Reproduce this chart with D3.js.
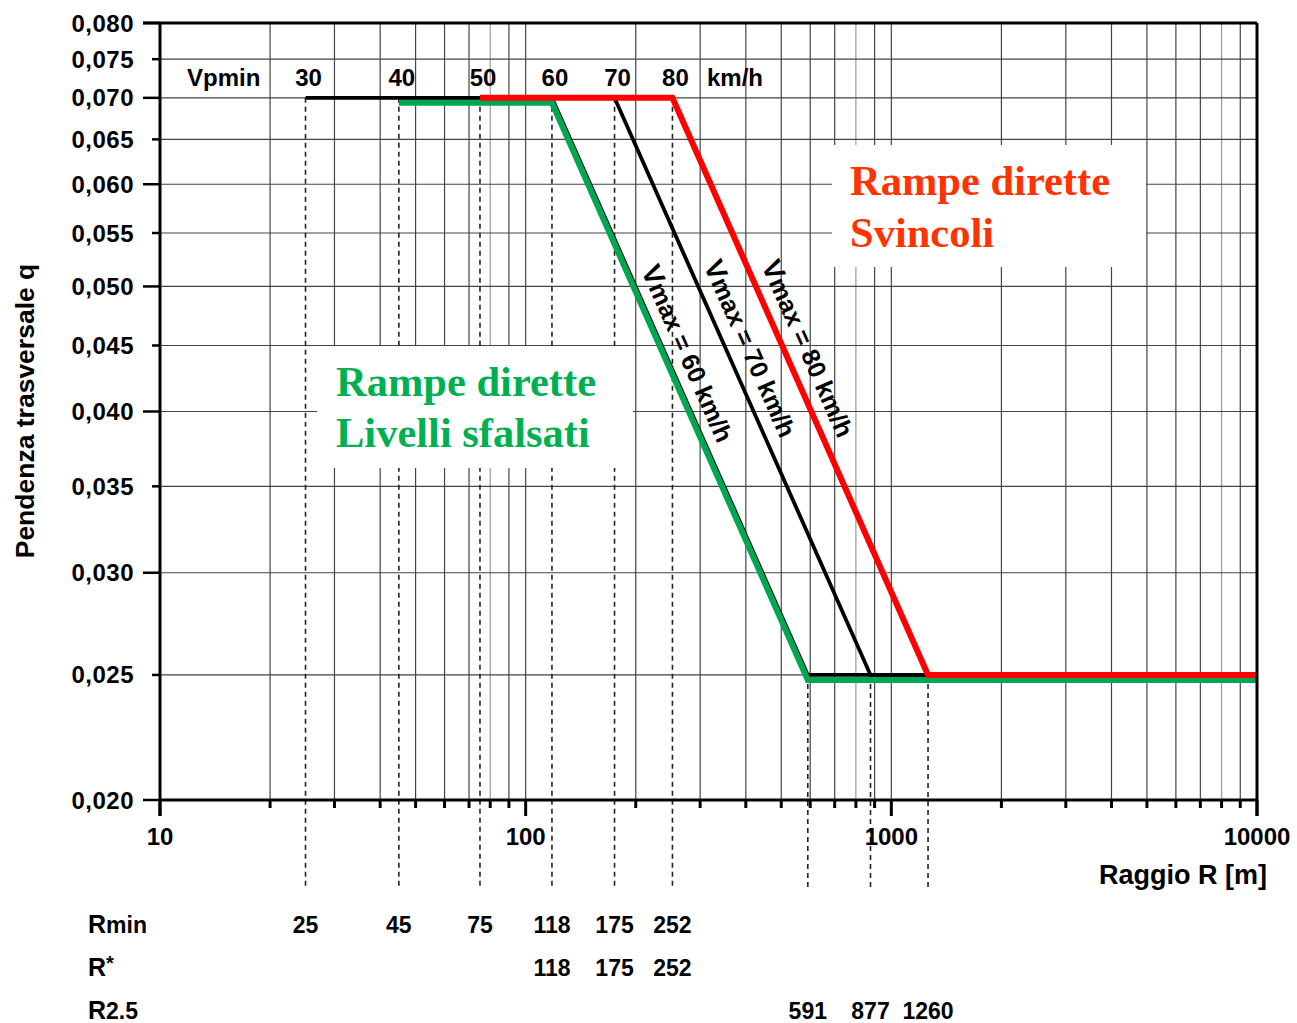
<!DOCTYPE html>
<html>
<head>
<meta charset="utf-8">
<script src="https://cdn.jsdelivr.net/npm/d3@7"></script>
<style>
  body { margin: 0; background: #fff; }
  svg { display: block; font-family: "Liberation Sans", Arial, sans-serif; }
</style>
</head>
<body>
<svg id="chart" width="1297" height="1023"></svg>
<script>
// values
const vpmin = [30, 40, 50, 60, 70, 80];
const rMin = [25, 45, 75, 118, 175, 252];
const rStar = [118, 175, 252];
const r25 = [591, 877, 1260];
const vmax = [60, 70, 80];
const seriesStart = [45, 25, 75];   // Rmin where each Vmax curve begins
const qMax = 0.070;
const qMin = 0.025;
const rEnd = 10000;
const yTicks = [0.020, 0.025, 0.030, 0.035, 0.040, 0.045, 0.050, 0.055, 0.060, 0.065, 0.070, 0.075, 0.080];
const xTicks = [10, 100, 1000, 10000];

const svg = d3.select('#chart');

const x = d3.scaleLog().domain([10, 10000]).range([160, 1257]);
const y = d3.scaleLog().domain([0.02, 0.08]).range([800, 23]);

const fmtY = d => d.toFixed(3).replace('.', ',');

// vertical grid (minor decades)
const minor = [];
[10, 100, 1000].forEach(dec => {
  for (let k = 2; k <= 9; k++) minor.push(dec * k);
});
svg.append('g')
  .selectAll('line')
  .data(minor.concat([100, 1000]))
  .enter()
  .append('line')
  .attr('x1', d => x(d)).attr('x2', d => x(d))
  .attr('y1', y(0.08)).attr('y2', y(0.02))
  .attr('stroke', d => String(d)[0] === '8' ? '#9a9a9a' : '#444')
  .attr('stroke-width', 1.2);

// horizontal grid
svg.append('g')
  .selectAll('line')
  .data(yTicks)
  .enter()
  .append('line')
  .attr('x1', x(10)).attr('x2', x(10000))
  .attr('y1', d => y(d)).attr('y2', d => y(d))
  .attr('stroke', '#444')
  .attr('stroke-width', 1.2);

// dashed verticals for R values
const dashes = rMin.map(r => ({ r: r, q: qMax })).concat(r25.map(r => ({ r: r, q: qMin })));
svg.append('g')
  .selectAll('line')
  .data(dashes)
  .enter()
  .append('line')
  .attr('x1', d => x(d.r)).attr('x2', d => x(d.r))
  .attr('y1', d => y(d.q)).attr('y2', 888)
  .attr('stroke', '#222')
  .attr('stroke-width', 1.6)
  .attr('stroke-dasharray', '5,4');

// legend boxes (white, cover grid)
svg.append('rect').attr('x', 317).attr('y', 346).attr('width', 316).attr('height', 122).attr('fill', '#fff');
svg.append('rect').attr('x', 832).attr('y', 145).attr('width', 314).attr('height', 122).attr('fill', '#fff');

const serif = '"Liberation Serif", "Times New Roman", serif';
svg.append('text').attr('x', 336).attr('y', 396).text('Rampe dirette')
  .attr('font-family', serif).attr('font-weight', 'bold').attr('font-size', 42.5).attr('fill', '#00b050');
svg.append('text').attr('x', 336).attr('y', 447).text('Livelli sfalsati')
  .attr('font-family', serif).attr('font-weight', 'bold').attr('font-size', 42.5).attr('fill', '#00b050');
svg.append('text').attr('x', 850).attr('y', 195).text('Rampe dirette')
  .attr('font-family', serif).attr('font-weight', 'bold').attr('font-size', 42.5).attr('fill', '#ff3300');
svg.append('text').attr('x', 850).attr('y', 247).text('Svincoli')
  .attr('font-family', serif).attr('font-weight', 'bold').attr('font-size', 42.5).attr('fill', '#ff3300');

// curves
const series = vmax.map((v, i) => ({
  v: v,
  pts: [[seriesStart[i], qMax], [rStar[i], qMax], [r25[i], qMin], [rEnd, qMin]]
}));
const line = d3.line().x(d => x(d[0])).y(d => y(d[1]));

// black base for every curve
svg.append('g')
  .selectAll('path')
  .data(series)
  .enter()
  .append('path')
  .attr('d', d => line(d.pts))
  .attr('fill', 'none')
  .attr('stroke', '#000')
  .attr('stroke-width', 3.8);

// green (60) drawn slightly below, red (80) on top
svg.append('path')
  .attr('d', line(series[0].pts))
  .attr('transform', 'translate(0,5)')
  .attr('fill', 'none').attr('stroke', '#00a651').attr('stroke-width', 6);
svg.append('path')
  .attr('d', line(series[2].pts))
  .attr('fill', 'none').attr('stroke', '#ff0000').attr('stroke-width', 6);

// Vmax labels along diagonals
series.forEach((s, i) => {
  const x0 = x(rStar[i]), y0 = y(qMax) + (i === 0 ? 5 : 0);
  const x1 = x(r25[i]), y1 = y(qMin) + (i === 0 ? 5 : 0);
  const dx = x1 - x0, dy = y1 - y0, len = Math.hypot(dx, dy);
  const t = 0.45, off = 22;
  const cx = x0 + dx * t + dy / len * off;
  const cy = y0 + dy * t - dx / len * off;
  const ang = Math.atan2(dy, dx) * 180 / Math.PI;
  const txt = svg.append('text')
    .attr('transform', `translate(${cx},${cy}) rotate(${ang})`)
    .attr('text-anchor', 'middle')
    .attr('dy', '0.35em')
    .attr('font-weight', 'bold')
    .attr('font-size', 25)
    .attr('fill', '#000');
  txt.append('tspan').attr('font-size', 28).text('V');
  txt.append('tspan').text('max = ' + s.v + ' km/h');
});

// frame
const frame = svg.append('g').attr('stroke', '#000').attr('stroke-width', 3);
frame.append('line').attr('x1', 143).attr('x2', x(10000)).attr('y1', y(0.08)).attr('y2', y(0.08));
frame.append('line').attr('x1', x(10)).attr('x2', x(10000)).attr('y1', y(0.02)).attr('y2', y(0.02));
frame.append('line').attr('x1', x(10)).attr('x2', x(10)).attr('y1', y(0.08)).attr('y2', 816);
frame.append('line').attr('x1', x(10000)).attr('x2', x(10000)).attr('y1', y(0.08)).attr('y2', 816);

// y ticks + labels
svg.append('g')
  .selectAll('line')
  .data(yTicks)
  .enter()
  .append('line')
  .attr('x1', (d, i) => i % 2 === 0 ? 143 : 152).attr('x2', x(10))
  .attr('y1', d => y(d)).attr('y2', d => y(d))
  .attr('stroke', '#000').attr('stroke-width', 2.5);
svg.append('g')
  .selectAll('text')
  .data(yTicks)
  .enter()
  .append('text')
  .attr('x', 134)
  .attr('y', d => y(d) + 8.5)
  .attr('text-anchor', 'end')
  .attr('font-weight', 'bold')
  .attr('font-size', 24)
  .attr('letter-spacing', 0.5)
  .text(fmtY);

// x ticks + labels
svg.append('g')
  .selectAll('line')
  .data(minor)
  .enter()
  .append('line')
  .attr('x1', d => x(d)).attr('x2', d => x(d))
  .attr('y1', y(0.02)).attr('y2', 808)
  .attr('stroke', '#000').attr('stroke-width', 3);
svg.append('g')
  .selectAll('line')
  .data(xTicks)
  .enter()
  .append('line')
  .attr('x1', d => x(d)).attr('x2', d => x(d))
  .attr('y1', y(0.02)).attr('y2', 816)
  .attr('stroke', '#000').attr('stroke-width', 3);
svg.append('g')
  .selectAll('text')
  .data(xTicks)
  .enter()
  .append('text')
  .attr('x', d => x(d))
  .attr('y', 845)
  .attr('text-anchor', 'middle')
  .attr('font-weight', 'bold')
  .attr('font-size', 24)
  .text(d => d);

// axis titles
svg.append('text')
  .attr('x', 1267).attr('y', 884)
  .attr('text-anchor', 'end')
  .attr('font-weight', 'bold').attr('font-size', 27)
  .text('Raggio R [m]');
svg.append('text')
  .attr('transform', 'translate(34,411) rotate(-90)')
  .attr('text-anchor', 'middle')
  .attr('font-weight', 'bold').attr('font-size', 26.5)
  .text('Pendenza trasversale q');

// Vpmin row
svg.append('text').attr('x', 187).attr('y', 86)
  .attr('font-weight', 'bold').attr('font-size', 24).text('Vpmin');
svg.append('g')
  .selectAll('text')
  .data(vpmin)
  .enter()
  .append('text')
  .attr('x', (d, i) => x(rMin[i]) + 3)
  .attr('y', 86)
  .attr('text-anchor', 'middle')
  .attr('font-weight', 'bold').attr('font-size', 24)
  .text(d => d);
svg.append('text').attr('x', 707).attr('y', 86)
  .attr('font-weight', 'bold').attr('font-size', 24).text('km/h');

// bottom value rows
const rows = [
  { vals: rMin, y: 933, sub: 'min', sup: false },
  { vals: rStar, y: 976, sub: '*', sup: true },
  { vals: r25, y: 1019, sub: '2.5', sup: false }
];
rows.forEach(row => {
  const lab = svg.append('text').attr('x', 88).attr('y', row.y)
    .attr('font-weight', 'bold').attr('font-size', 25);
  lab.append('tspan').text('R');
  lab.append('tspan')
    .attr('font-size', row.sup ? 20 : 23)
    .attr('dy', row.sup ? -6 : 0)
    .text(row.sub);
  svg.append('g')
    .selectAll('text')
    .data(row.vals)
    .enter()
    .append('text')
    .attr('x', d => x(d))
    .attr('y', row.y)
    .attr('text-anchor', 'middle')
    .attr('font-weight', 'bold').attr('font-size', 23)
    .text(d => d);
});
</script>
</body>
</html>
